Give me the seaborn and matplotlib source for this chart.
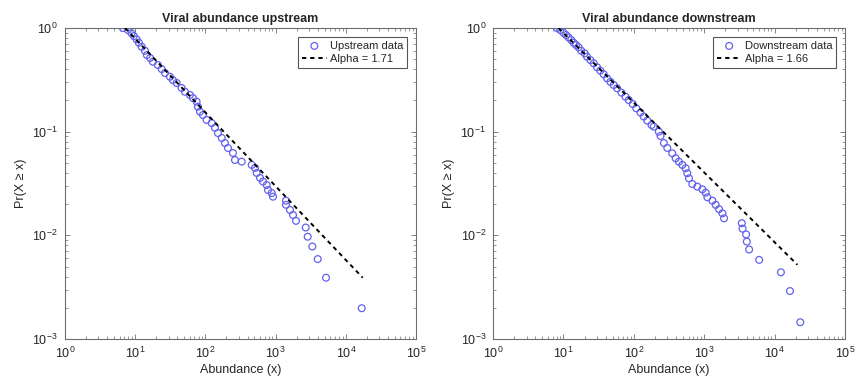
import matplotlib
matplotlib.use("Agg")
import matplotlib.pyplot as plt
import seaborn as sns
import pandas as pd
from matplotlib.ticker import LogLocator, NullFormatter

sns.set_theme(style="ticks")
plt.rcParams['font.family'] = ['Liberation Sans', 'DejaVu Sans']
plt.rcParams['mathtext.fontset'] = 'custom'
plt.rcParams['mathtext.rm'] = 'Liberation Sans'

# ---------------- data ----------------
up_abundance = [6.7, 7.9, 8.9, 9.6, 10.5, 11.3, 12.4, 13.8, 14.7, 16.3, 17.9, 21.1, 23.9,
                26.6, 31.3, 34.5, 39.0, 45.9, 51.2, 60.4, 66.6, 75.1, 78.5, 83.8, 92.4,
                104, 123, 137, 151, 171, 190, 210, 247, 264, 329, 457, 509, 538, 600,
                662, 747, 780, 880, 919, 1406, 1406, 1603, 1770, 1954, 2685, 2865, 3333,
                3980, 5227, 16840]
up_prob = [1.0, 0.957, 0.889, 0.837, 0.778, 0.722, 0.660, 0.604, 0.549, 0.514, 0.473,
           0.440, 0.402, 0.368, 0.339, 0.315, 0.295, 0.264, 0.243, 0.226, 0.211, 0.195,
           0.174, 0.156, 0.145, 0.130, 0.121, 0.109, 0.097, 0.087, 0.0778, 0.0696,
           0.0623, 0.0533, 0.0514, 0.0478, 0.0447, 0.0400, 0.0358, 0.0330, 0.0306,
           0.0274, 0.0256, 0.0236, 0.0216, 0.0197, 0.0176, 0.0157, 0.0138, 0.0119,
           0.0097, 0.0078, 0.0059, 0.0039, 0.00198]

down_abundance = [8.1, 9.0, 10.0, 10.9, 11.8, 12.9, 13.9, 15.1, 16.4, 17.9, 20.0, 21.6,
                  24.1, 26.9, 30.0, 33.4, 37.2, 41.7, 46.4, 51.7, 57.8, 66.6, 75.9, 84.6,
                  96.4, 108, 124, 138, 155, 178, 192, 226, 239, 267, 298, 351, 392, 436,
                  488, 543, 574, 605, 676, 797, 939, 1047, 1107, 1304, 1452, 1619, 1811,
                  1909, 3413, 3491, 3928, 4018, 4335, 6015, 12250, 16480, 23070]
down_prob = [1.0, 0.957, 0.901, 0.856, 0.813, 0.766, 0.722, 0.686, 0.652, 0.604, 0.570,
             0.529, 0.491, 0.457, 0.418, 0.388, 0.358, 0.327, 0.303, 0.282, 0.262, 0.238,
             0.218, 0.202, 0.185, 0.168, 0.153, 0.140, 0.128, 0.116, 0.112, 0.100, 0.091,
             0.0778, 0.0697, 0.0619, 0.0554, 0.0514, 0.0478, 0.0444, 0.0397, 0.0355,
             0.0313, 0.0295, 0.0278, 0.0258, 0.0233, 0.0216, 0.0197, 0.0179, 0.0163,
             0.0146, 0.0131, 0.0116, 0.0102, 0.0087, 0.0073, 0.0058, 0.0044, 0.0029,
             0.00145]

up_fit_x = [7.2, 17400]
up_fit_y = [1.0, 0.0039]
down_fit_x = [8.5, 21000]
down_fit_y = [1.0, 0.0052]

titles = ["Viral abundance upstream", "Viral abundance downstream"]
data_labels = ["Upstream data", "Downstream data"]
fit_labels = ["Alpha = 1.71", "Alpha = 1.66"]

# ---------------- figure ----------------
fig = plt.figure(figsize=(8.65, 3.82), dpi=100)
axes = [fig.add_axes([0.075, 0.1126, 0.406, 0.814]),
        fig.add_axes([0.570, 0.1126, 0.407, 0.814])]

marker_color = '#6262ec'
spine_color = '#6e6e6e'

sets = [(up_abundance, up_prob, up_fit_x, up_fit_y),
        (down_abundance, down_prob, down_fit_x, down_fit_y)]

for i, ax in enumerate(axes):
    xa, ya, fx, fy = sets[i]
    df = pd.DataFrame({'x': xa, 'y': ya})
    dfit = pd.DataFrame({'x': fx, 'y': fy})
    ax.set_xscale('log')
    ax.set_yscale('log')
    sns.scatterplot(data=df, x='x', y='y', ax=ax, marker='o', s=24,
                    facecolor='none', edgecolor=marker_color, linewidth=0.9,
                    label=data_labels[i], zorder=3)
    sns.lineplot(data=dfit, x='x', y='y', ax=ax, color='black', linewidth=1.4,
                 linestyle=(0, (2.2, 2.0)), label=fit_labels[i], zorder=4)
    ax.set_xlim(1, 1e5)
    ax.set_ylim(1e-3, 1)
    ax.set_title(titles[i], fontsize=9, fontweight='bold', pad=4)
    ax.set_xlabel('Abundance (x)', fontsize=9, labelpad=2)
    ax.set_ylabel('Pr(X \u2265 x)', fontsize=9, labelpad=4)
    ax.xaxis.set_major_locator(LogLocator(base=10, numticks=10))
    ax.yaxis.set_major_locator(LogLocator(base=10, numticks=10))
    ax.xaxis.set_minor_locator(LogLocator(base=10, subs=range(2, 10), numticks=20))
    ax.yaxis.set_minor_locator(LogLocator(base=10, subs=range(2, 10), numticks=20))
    ax.xaxis.set_minor_formatter(NullFormatter())
    ax.yaxis.set_minor_formatter(NullFormatter())
    ax.tick_params(which='both', direction='in', top=True, right=True,
                   colors=spine_color, labelcolor='#262626', labelsize=9)
    ax.tick_params(which='major', length=3.5, width=0.6, pad=5)
    ax.tick_params(which='minor', length=2, width=0.5)
    for sp in ax.spines.values():
        sp.set_color(spine_color)
        sp.set_linewidth(0.8)
    ax.set_facecolor('white')
    leg = ax.legend(loc='upper right', fontsize=8, frameon=True, fancybox=False,
                    edgecolor='#555555', framealpha=1, handlelength=2.2,
                    handletextpad=0.3, borderpad=0.35, labelspacing=0.3,
                    borderaxespad=0.8)
    leg.get_frame().set_linewidth(0.8)

fig.savefig('out.png', dpi=100, facecolor='white')
